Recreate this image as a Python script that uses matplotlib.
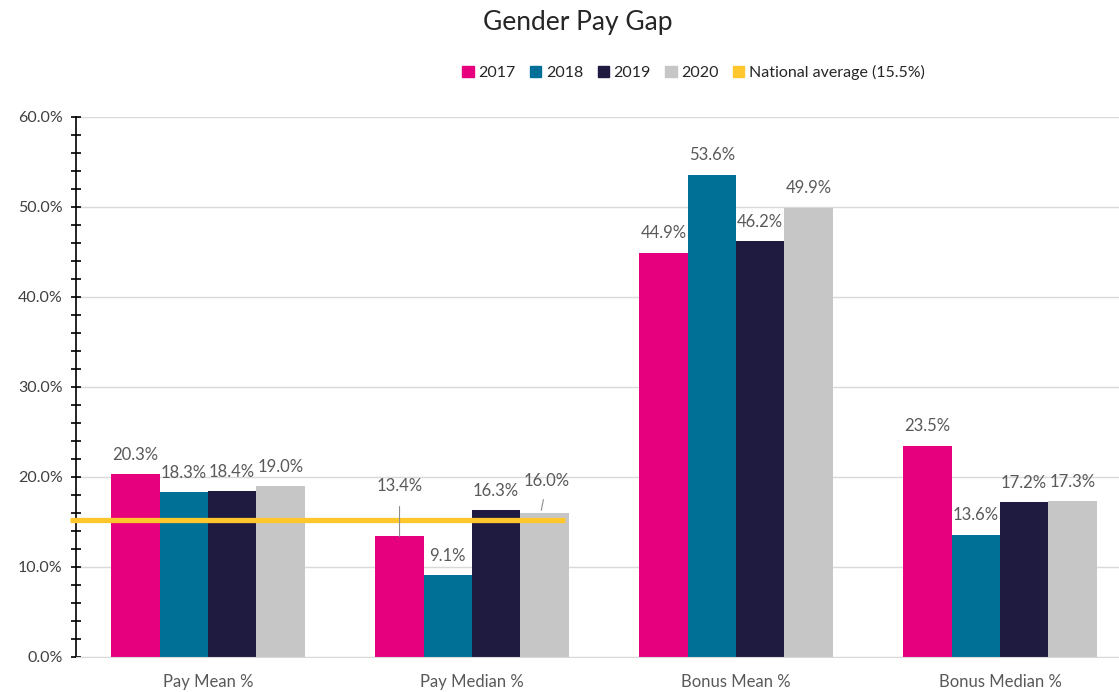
import matplotlib.pyplot as plt
import numpy as np
from matplotlib.patches import Patch
from matplotlib.ticker import MultipleLocator, FuncFormatter

categories = ["Pay Mean %", "Pay Median %", "Bonus Mean %", "Bonus Median %"]
years = ["2017", "2018", "2019", "2020"]
v2017 = [20.3, 13.4, 44.9, 23.5]
v2018 = [18.3, 9.1, 53.6, 13.6]
v2019 = [18.4, 16.3, 46.2, 17.2]
v2020 = [19.0, 16.0, 49.9, 17.3]
national_avg = 15.5

series = [v2017, v2018, v2019, v2020]
colors = ["#E6007E", "#007096", "#1F1A3F", "#C6C6C6"]
label_color = "#595959"

plt.rcParams["font.family"] = ["Lato", "DejaVu Sans"]

fig = plt.figure(figsize=(11.19, 6.92), dpi=100)
ax = fig.add_axes([76 / 1119, 35 / 692, 1056 / 1119, 540 / 692])

x = np.arange(len(categories))
width = 0.183
handles = []
for i, (vals, col) in enumerate(zip(series, colors)):
    pos = x + (i - 1.5) * width
    ax.bar(pos, vals, width=width, color=col, zorder=2)
    handles.append(Patch(color=col, label=years[i]))
    for j, (p, v) in enumerate(zip(pos, vals)):
        if (i, j) == (0, 1):
            # label pulled up with a leader line
            ax.annotate(f"{v:.1f}%", xy=(p, v), xytext=(p, v + 5.6), ha="center", va="center",
                        fontsize=12, color=label_color, zorder=4,
                        arrowprops=dict(arrowstyle="-", color="#8c8c8c", lw=0.8, shrinkA=7, shrinkB=0))
        elif (i, j) == (3, 1):
            ax.annotate(f"{v:.1f}%", xy=(p - 0.012, v + 0.3), xytext=(p + 0.01, v + 3.6), ha="center",
                        va="center", fontsize=12, color=label_color, zorder=4,
                        arrowprops=dict(arrowstyle="-", color="#8c8c8c", lw=0.8, shrinkA=6, shrinkB=0))
        else:
            ax.annotate(f"{v:.1f}%", xy=(p, v), xytext=(0, 14), textcoords="offset points",
                        ha="center", va="center", fontsize=12, color=label_color, zorder=4)

ax.hlines(national_avg - 0.3, -0.523, 1.352, color="#FFC72C", lw=3.8, zorder=3, clip_on=False)
handles.append(Patch(color="#FFC72C", label=f"National average ({national_avg}%)"))

ax.set_xlim(-0.5, 3.5)
ax.set_ylim(0, 60)
ax.set_xticks(x)
ax.set_xticklabels(categories, fontsize=12, color=label_color)
ax.tick_params(axis="x", length=0, pad=12)
ax.yaxis.set_major_locator(MultipleLocator(10))
ax.yaxis.set_minor_locator(MultipleLocator(2))
ax.yaxis.set_major_formatter(FuncFormatter(lambda v, _: f"{v:.1f}%"))
ax.tick_params(axis="y", which="both", direction="inout", length=7, width=1.2, color="black",
               labelsize=11.5, labelcolor="#404040", pad=6)
ax.grid(axis="y", color="#d9d9d9", lw=1, zorder=0)
for s in ["top", "right"]:
    ax.spines[s].set_visible(False)
ax.spines["left"].set_color("black")
ax.spines["left"].set_linewidth(1.2)
ax.spines["bottom"].set_color("#d9d9d9")

fig.text(0.516, 0.968, "Gender Pay Gap", ha="center", va="center", fontsize=19, color="#262626")
fig.legend(handles=handles, loc="center", bbox_to_anchor=(0.62, 0.895), ncol=5, frameon=False,
           handlelength=0.7, handleheight=0.7, handletextpad=0.3, columnspacing=0.9,
           fontsize=11.5, labelcolor="#262626")

fig.savefig("out.png", dpi=100)
